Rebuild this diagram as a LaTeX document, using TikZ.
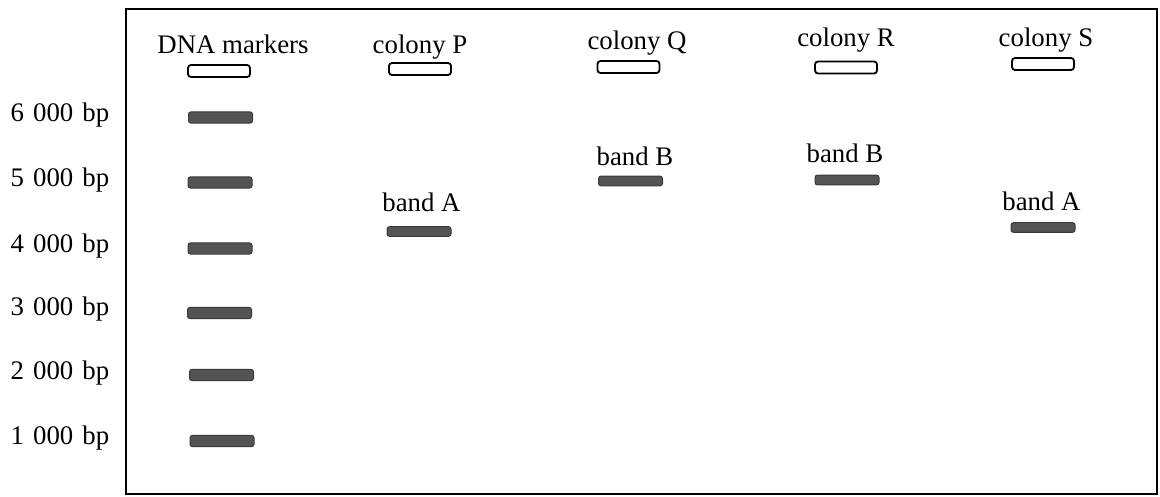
\documentclass[tikz,border=0pt]{standalone}
\usepackage{fontspec}
\setmainfont{Liberation Serif}
\definecolor{bandgray}{HTML}{545454}
\newcommand\laddergap{\spaceskip=0.34em plus 0.1em\relax}
\tikzset{
  gellabel/.style={anchor=base, inner sep=0pt, font=\fontsize{13.4}{16}\selectfont},
  ladderlabel/.style={gellabel, font={\fontsize{13.4}{16}\selectfont\laddergap}},
  well/.style={draw=black, fill=white, line width=0.9pt, rounded corners=1.5pt,
    minimum width=31pt, minimum height=6pt, inner sep=0pt},
  marker/.style={draw=bandgray!70!black, fill=bandgray, line width=0.5pt, rounded corners=1.2pt,
    minimum width=32pt, minimum height=5.6pt, inner sep=0pt},
  sample/.style={marker, minimum height=4.8pt}
}
\begin{document}
\begin{tikzpicture}[x=0.5pt,y=-0.5pt]
\useasboundingbox (0,0) rectangle (1160,497);
\draw[line width=1.2pt] (126,9) rectangle (1157,494);
% column headings and wells
\node[gellabel] (hdm) at (233,54) {DNA markers};
\node[gellabel] (hdp) at (420,54) {colony P};
\node[gellabel] (hdq) at (637,50) {colony Q};
\node[gellabel] (hdr) at (846,47) {colony R};
\node[gellabel] (hds) at (1046,47) {colony S};
\node[well] (wm) at (219,71) {};
\node[well] (wp) at (420,69) {};
\node[well] (wq) at (628.5,67) {};
\node[well] (wr) at (846,67.5) {};
\node[well] (ws) at (1043,64) {};
% size ladder
\node[ladderlabel] (l6) at (60,121.5) {6 000 bp};
\node[ladderlabel] (l5) at (60,187) {5 000 bp};
\node[ladderlabel] (l4) at (60,252) {4 000 bp};
\node[ladderlabel] (l3) at (60,315) {3 000 bp};
\node[ladderlabel] (l2) at (60,379) {2 000 bp};
\node[ladderlabel] (l1) at (60,444) {1 000 bp};
\node[marker] (m6) at (220.5,117.5) {};
\node[marker] (m5) at (220,182.5) {};
\node[marker] (m4) at (220,248.5) {};
\node[marker] (m3) at (219.5,313) {};
\node[marker] (m2) at (221.5,375) {};
\node[marker] (m1) at (222,441) {};
% bands from the colonies
\node[gellabel] (tp) at (421.5,212) {band A};
\node[gellabel] (tq) at (635,166) {band B};
\node[gellabel] (tr) at (845,163) {band B};
\node[gellabel] (ts) at (1041.5,211) {band A};
\node[sample] (bp) at (419,231.5) {};
\node[sample] (bq) at (630.5,181) {};
\node[sample] (br) at (847,180) {};
\node[sample] (bs) at (1043,227.5) {};
\end{tikzpicture}
\end{document}
